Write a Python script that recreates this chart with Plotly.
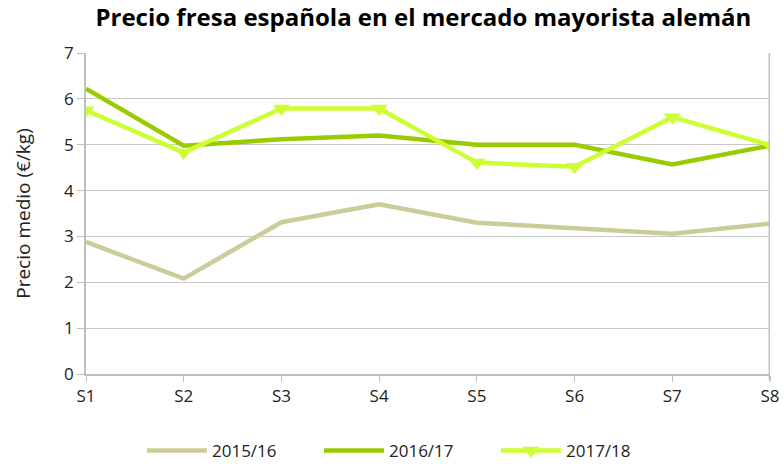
import plotly.graph_objects as go

semanas = ["S1", "S2", "S3", "S4", "S5", "S6", "S7", "S8"]
v_2015_16 = [2.88, 2.08, 3.31, 3.70, 3.30, 3.18, 3.06, 3.28]
v_2016_17 = [6.22, 4.98, 5.12, 5.20, 5.00, 5.00, 4.57, 4.98]
v_2017_18 = [5.75, 4.83, 5.79, 5.79, 4.61, 4.52, 5.60, 4.99]

FONT = "Open Sans"

fig = go.Figure()
fig.add_trace(go.Scatter(x=semanas, y=v_2015_16, mode="lines", name="2015/16",
                         line=dict(color="#CCCC99", width=4.5)))
fig.add_trace(go.Scatter(x=semanas, y=v_2016_17, mode="lines", name="2016/17",
                         line=dict(color="#99CC00", width=4.5)))
fig.add_trace(go.Scatter(x=semanas, y=v_2017_18, mode="lines+markers", name="2017/18",
                         line=dict(color="#CCFF33", width=4.5),
                         marker=dict(symbol="triangle-down", size=15, color="#CCFF33")))

fig.update_layout(
    width=784, height=464,
    margin=dict(l=86, r=14, t=53, b=90, autoexpand=False),
    paper_bgcolor="white", plot_bgcolor="white",
    title=dict(text="<b>Precio fresa española en el mercado mayorista alemán</b>",
               x=0.54, xanchor="center", y=0.961, yanchor="middle",
               font=dict(family=FONT, size=24, color="black")),
    font=dict(family=FONT, size=16, color="#222222"),
    showlegend=True,
    legend=dict(orientation="h", x=0.47, xanchor="center", yref="container",
                y=0.028, yanchor="middle",
                font=dict(size=17, color="#222222"), itemwidth=60,
                traceorder="normal", entrywidth=102),
    xaxis=dict(range=[0, 7], showgrid=False, showline=True, linecolor="#BFBFBF",
               linewidth=1.5, ticks="outside", ticklen=6, tickcolor="#BFBFBF",
               tickfont=dict(size=17, color="#222222"), zeroline=False),
    yaxis=dict(range=[0, 7], dtick=1, showgrid=True, gridcolor="#C8C8C8", gridwidth=1.2,
               showline=True, linecolor="#BFBFBF", linewidth=1.5,
               ticks="outside", ticklen=7, tickcolor="#BFBFBF",
               tickfont=dict(size=17, color="#222222"), zeroline=False,
               title=dict(text="Precio medio (€/kg)", font=dict(size=19, color="#222222"),
                          standoff=28)),
)
fig.add_shape(type="line", xref="paper", yref="paper", x0=0.999, x1=0.999, y0=-0.02, y1=1,
              line=dict(color="#BFBFBF", width=1.5))

fig.write_html("out.html")
